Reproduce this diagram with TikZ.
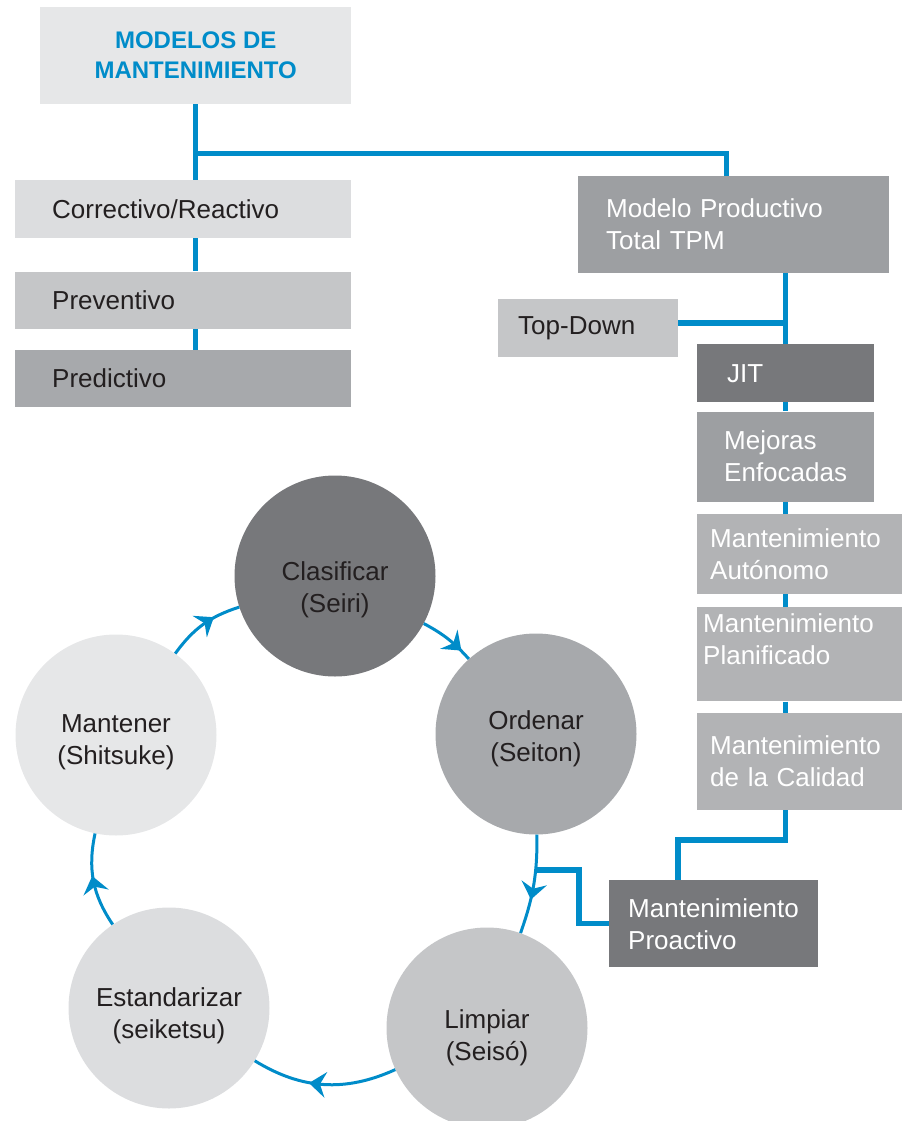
\documentclass[tikz,border=0pt]{standalone}
\usepackage{fontspec}
\setmainfont{Liberation Sans}
\usetikzlibrary{arrows.meta,positioning,decorations.markings}
\definecolor{mblue}{RGB}{0,140,201}
\definecolor{ink}{RGB}{35,31,32}
\definecolor{gray1}{RGB}{230,231,232}
\definecolor{gray2}{RGB}{220,221,223}
\definecolor{gray3}{RGB}{197,198,200}
\definecolor{gray4}{RGB}{178,179,181}
\definecolor{gray5}{RGB}{167,169,172}
\definecolor{gray6}{RGB}{157,159,162}
\definecolor{gray7}{RGB}{119,120,123}
\newcommand{\boxfont}{\fontsize{26}{32}\selectfont}
\newcommand{\headfont}{\fontsize{24}{30}\selectfont\bfseries}

\begin{document}
\begin{tikzpicture}[
    x=1pt, y=1pt,
    box/.style={rectangle, anchor=north west, inner ysep=0pt, align=left, font=\boxfont, text=ink},
    sdisc/.style={circle, minimum size=201pt, inner sep=0pt, align=center, font=\boxfont, text=ink, text height=#1, text depth=0pt},
    sdisc/.default=58pt,
    trunk/.style={draw=mblue, line width=5.5pt},
    cycarc/.style={draw=mblue, line width=3pt,
        decoration={markings, mark=at position #1 with {\fill[mblue] (9pt,0pt) -- (-8pt,13pt) -- (-2pt,0pt) -- (-8pt,-13pt) -- cycle;}},
        postaction={decorate}}
]
\useasboundingbox (0,0) rectangle (907,-1121);

% maintenance models
\node[box, fill=gray1, text=mblue, align=center, font=\headfont, minimum width=311pt, minimum height=97pt] (title) at (40,-7) {MODELOS DE\\MANTENIMIENTO};
\node[box, fill=gray2, minimum height=58pt, text width=262pt, inner xsep=37pt] (corr) at (15,-180) {Correctivo/Reactivo};
\node[box, fill=gray3, minimum height=57pt, text width=262pt, inner xsep=37pt, below=33pt of corr.south west, anchor=north west] (prev) {Preventivo};
\node[box, fill=gray5, minimum height=57pt, text width=262pt, inner xsep=37pt, below=21pt of prev.south west, anchor=north west] (pred) {Predictivo};

% TPM column
\node[box, fill=gray6, text=white, minimum height=97pt, text width=255pt, inner xsep=28pt] (tpm) at (578,-176) {Modelo Productivo\\Total TPM};
\node[box, fill=gray3, minimum height=58pt, text width=140pt, inner xsep=20pt] (top) at (498,-299) {Top-Down};
\node[box, fill=gray7, text=white, minimum height=58pt, text width=117pt, inner xsep=30pt] (jit) at (697,-344) {JIT};
\node[box, fill=gray6, text=white, minimum height=90pt, text width=123pt, inner xsep=27pt, below=9pt of jit.south west, anchor=north west] (mej) {Mejoras\\Enfocadas};
\node[box, fill=gray4, text=white, minimum height=80pt, text width=179pt, inner xsep=13pt, below=12pt of mej.south west, anchor=north west] (aut) {Mantenimiento\\Autónomo};
\node[box, fill=gray4, text=white, minimum height=94pt, text width=193pt, inner xsep=6pt, text depth=62pt, below=13pt of aut.south west, anchor=north west] (plan) {Mantenimiento\\Planificado};
\node[box, fill=gray4, text=white, minimum height=97pt, text width=179pt, inner xsep=13pt, below=11pt of plan.south west, anchor=north west] (cal) {Mantenimiento\\de la Calidad};
\node[box, fill=gray7, text=white, minimum height=87pt, text width=171pt, inner xsep=19pt] (pro) at (609,-880) {Mantenimiento\\Proactivo};

% 5S cycle
\node[sdisc=73pt, fill=gray7] (c1) at (335,-576) {Clasificar\\(Seiri)};
\node[sdisc=54pt, fill=gray5] (c2) at (536,-734) {Ordenar\\(Seiton)};
\node[sdisc=64pt, fill=gray3] (c3) at (487,-1028) {Limpiar\\(Seisó)};
\node[sdisc=60pt, fill=gray2] (c4) at (169,-1008) {Estandarizar\\(seiketsu)};
\node[sdisc=58pt, fill=gray1] (c5) at (116,-735) {Mantener\\(Shitsuke)};

\draw[cycarc=0.65] (c1) to[bend left=10] (c2);
\draw[cycarc=0.56] (c2) to[bend left=10] coordinate[pos=0.34] (tap) (c3);
\draw[cycarc=0.54] (c3) to[bend left=28] (c4);
\draw[cycarc=0.46] (c4) to[bend left=23] (c5);
\draw[cycarc=0.55] (c5) to[bend left=18] (c1);

% connectors
\draw[trunk] (title.south) -- (title.south |- corr.north);
\draw[trunk] (title.south |- corr.south) -- (title.south |- prev.north);
\draw[trunk] (title.south |- prev.south) -- (title.south |- pred.north);
\draw[trunk] ([yshift=-49pt]title.south) -| ([xshift=-7pt]tpm.north);
\draw[trunk] (tpm.south -| jit.north) -- (jit.north);
\draw[trunk] ([yshift=5pt]top.east) -- ([yshift=5pt]top.east -| jit.north);
\draw[trunk] (jit.south) -- (mej.north);
\draw[trunk] (mej.south) -- (mej.south |- aut.north);
\draw[trunk] (mej.south |- aut.south) -- (mej.south |- plan.north);
\draw[trunk] (mej.south |- plan.south) -- (mej.south |- cal.north);
\draw[trunk] (mej.south |- cal.south) -- ++(0,-30) -| ([xshift=-35.5pt]pro.north);
\draw[trunk] (pro.west) -- ++(-30,0) |- (tap);
\end{tikzpicture}
\end{document}
